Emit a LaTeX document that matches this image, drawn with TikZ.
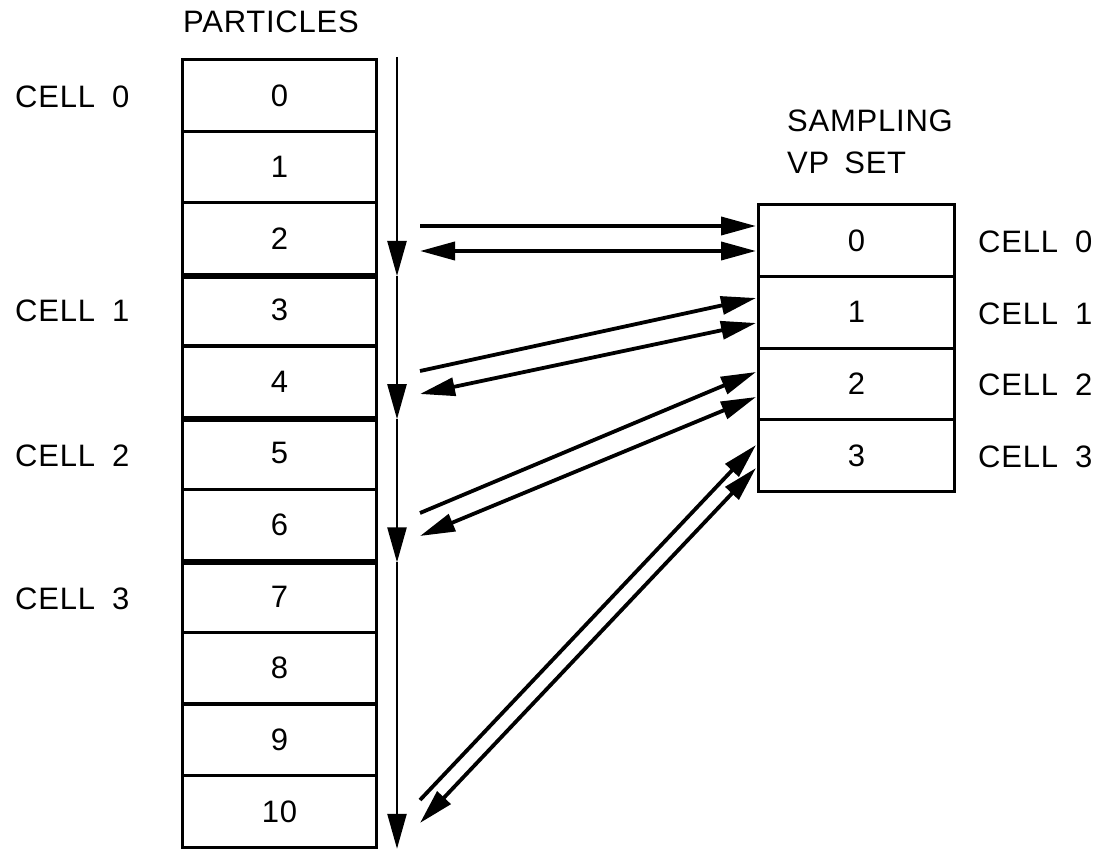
\documentclass[tikz,border=0pt]{standalone}
\usepackage{fontspec}
\setmainfont{Liberation Sans}[LetterSpace=2.5]
\usetikzlibrary{arrows.meta,calc}
\begin{document}
\begin{tikzpicture}[x=1pt,y=-1pt,
  lbl/.style={font=\fontsize{31}{36}\selectfont, inner sep=0pt},
  cellbox/.style={draw, line width=3.2pt, minimum width=194pt, minimum height=71.6pt,
    inner sep=0pt, anchor=north west, font=\fontsize{31}{36}\selectfont},
  vpbox/.style={draw, line width=3pt, minimum width=196pt, minimum height=71.75pt,
    inner sep=0pt, anchor=north west, font=\fontsize{31}{36}\selectfont},
  divider/.style={line width=5.5pt},
  varrow/.style={line width=2.4pt, -{Triangle[length=35pt,width=19pt]}},
  onearrow/.style={line width=3.8pt, -{Triangle[length=35pt,width=18pt]}},
  twoarrow/.style={line width=3.8pt, {Triangle[length=35pt,width=18pt]}-{Triangle[length=35pt,width=18pt]}}
]
\useasboundingbox (0,0) rectangle (1108,850);

% particle column
\foreach \i in {0,...,10} {
  \node[cellbox] (p\i) at (181, {58+\i*71.6}) {\i};
}
\foreach \i in {2,4,6} {
  \draw[divider] (p\i.south west) -- (p\i.south east);
}

% sampling VP set column
\foreach \i in {0,...,3} {
  \node[vpbox] (s\i) at (757, {203+\i*71.75}) {\i};
}

% headings
\node[lbl] (hpart) at (271,22) {PARTICLES};
\node[lbl, anchor=west] (hsamp) at (787,121) {SAMPLING};
\node[lbl, anchor=west] (hvp) at (787,163) {VP\hspace{15pt}SET};

% left cell labels
\node[lbl, anchor=west] (lc0) at (15,97) {CELL\hspace{17pt}0};
\node[lbl, anchor=west] (lc1) at (15,311) {CELL\hspace{17pt}1};
\node[lbl, anchor=west] (lc2) at (15,456) {CELL\hspace{17pt}2};
\node[lbl, anchor=west] (lc3) at (15,599) {CELL\hspace{17pt}3};

% right cell labels
\node[lbl, anchor=west] (rc0) at (978,242) {CELL\hspace{17pt}0};
\node[lbl, anchor=west] (rc1) at (978,314) {CELL\hspace{17pt}1};
\node[lbl, anchor=west] (rc2) at (978,385) {CELL\hspace{17pt}2};
\node[lbl, anchor=west] (rc3) at (978,457) {CELL\hspace{17pt}3};

% vertical sweep arrow
\coordinate (vtop) at (397,57);
\draw[varrow] (vtop) -- (vtop |- p2.south);
\draw[varrow] (vtop |- p2.south) -- (vtop |- p4.south);
\draw[varrow] (vtop |- p4.south) -- (vtop |- p6.south);
\draw[varrow] (vtop |- p6.south) -- (vtop |- p10.south);

% arrow end points
\coordinate (a0l) at (420,226); \coordinate (a0r) at (756,226);
\coordinate (b0l) at (420,251); \coordinate (b0r) at (756,251);
\coordinate (a1l) at (420,371); \coordinate (a1r) at (756,298);
\coordinate (b1l) at (420,394); \coordinate (b1r) at (756,323);
\coordinate (a2l) at (420,513); \coordinate (a2r) at (756,372);
\coordinate (b2l) at (420,536); \coordinate (b2r) at (756,397);
\coordinate (a3l) at (420,800); \coordinate (a3r) at (756,445);
\coordinate (b3l) at (420,823); \coordinate (b3r) at (756,468);

\draw[onearrow] (a0l) -- (a0r);
\draw[twoarrow] (b0l) -- (b0r);
\draw[onearrow] (a1l) -- (a1r);
\draw[twoarrow] (b1l) -- (b1r);
\draw[onearrow] (a2l) -- (a2r);
\draw[twoarrow] (b2l) -- (b2r);
\draw[onearrow] (a3l) -- (a3r);
\draw[twoarrow] (b3l) -- (b3r);
\end{tikzpicture}
\end{document}
